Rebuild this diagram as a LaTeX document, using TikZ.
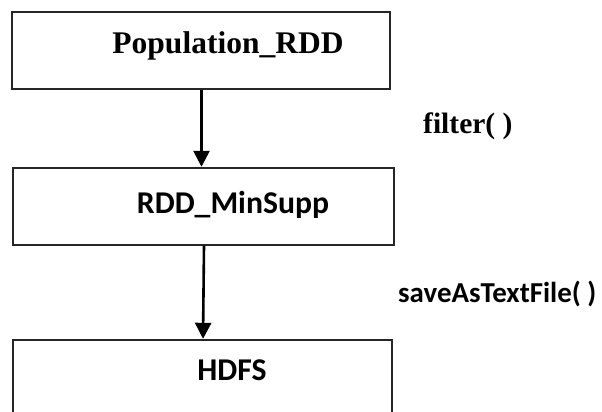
\documentclass[tikz,border=0pt]{standalone}
\usepackage{fontspec}
\setmainfont{Liberation Serif}
\newfontfamily\calib{Carlito}
\usetikzlibrary{arrows.meta}
\tikzset{
  boxnode/.style={draw=black!85, line width=1.4pt, rectangle, inner sep=0pt},
  serlabel/.style={font=\fontsize{31.5}{36}\selectfont\bfseries, inner sep=0pt, anchor=base},
  callabel/.style={font=\calib\fontsize{31.7}{36}\selectfont\bfseries, inner sep=0pt, anchor=base},
  flowarrow/.style={line width=2.6pt, -{Triangle[width=16pt,length=16pt]}, shorten >=0.5pt},
}
\begin{document}
\begin{tikzpicture}[x=1pt,y=-1pt]
\clip (0,0) rectangle (602,412);
\fill[white] (0,0) rectangle (602,412);
\node[boxnode, minimum width=378pt, minimum height=77pt] (b1) at (201,50.5) {};
\node[boxnode, minimum width=381pt, minimum height=77pt] (b2) at (203.5,206.5) {};
\node[boxnode, minimum width=379pt, minimum height=90pt] (b3) at (202.5,385) {};
\node[serlabel] (t1) at (228,53) {Population\_RDD};
\node[callabel] (t2) at (233,213) {RDD\_MinSupp};
\node[callabel] (t3) at (232,380) {HDFS};
\node[serlabel, anchor=base west, font=\fontsize{29.5}{34}\selectfont\bfseries] (l1) at (423,133) {filter( )};
\node[callabel, anchor=base west, font=\calib\fontsize{28.9}{34}\selectfont\bfseries] (l2) at (398,302) {saveAsTextFile( )};
\coordinate (a1s) at ([xshift=0.5pt]b1.south);
\draw[flowarrow] (a1s) -- (b2.north -| a1s);
\coordinate (a2s) at ([xshift=0.5pt]b2.south);
\coordinate (a2e) at ([xshift=0.5pt]b3.north);
\draw[flowarrow] (a2s) -- (a2e);
\end{tikzpicture}
\end{document}
